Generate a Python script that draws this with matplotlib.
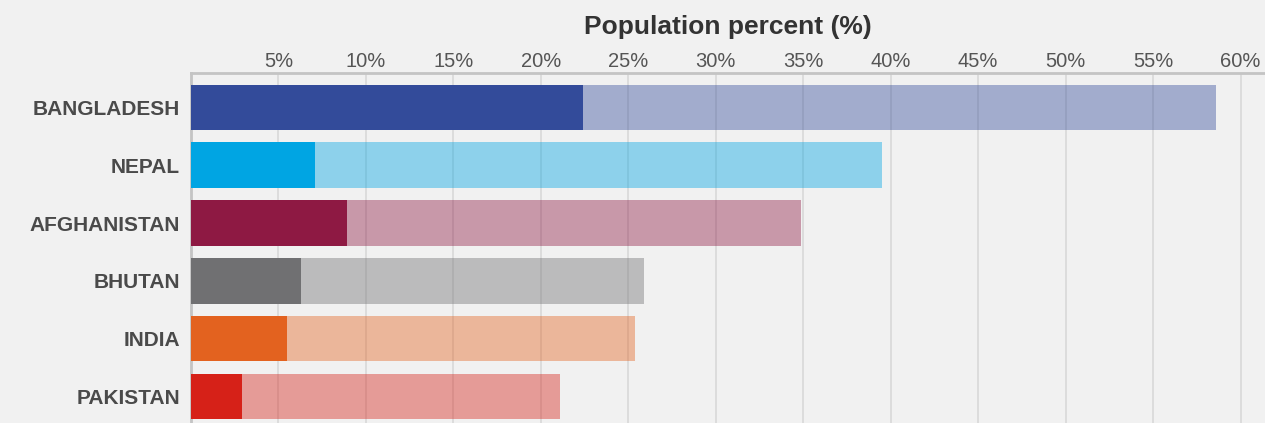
import matplotlib.pyplot as plt

countries = ['BANGLADESH', 'NEPAL', 'AFGHANISTAN', 'BHUTAN', 'INDIA', 'PAKISTAN']
dark_values = [22.4, 7.1, 8.9, 6.3, 5.5, 2.9]
light_values = [58.6, 39.5, 34.9, 25.9, 25.4, 21.1]
colors = ['#334b9a', '#00a5e3', '#8e1943', '#707072', '#e3621f', '#d62118']
ticks = [5, 10, 15, 20, 25, 30, 35, 40, 45, 50, 55, 60]

bg = '#f1f1f1'
plt.rcParams['font.family'] = ['Liberation Sans', 'DejaVu Sans']

fig = plt.figure(figsize=(12.65, 4.23), dpi=100, facecolor=bg)
ax = fig.add_axes([0.151, 0.0, 0.849, 0.8286])
ax.set_facecolor(bg)

y = list(range(len(countries)))
ax.barh(y, light_values, height=0.79, color=colors, alpha=0.41, zorder=2)
ax.barh(y, dark_values, height=0.79, color=colors, zorder=3)

ax.set_xlim(0, 61.4)
ax.set_ylim(5.46, -0.605)
ax.set_xticks(ticks)
ax.set_xticklabels([f'{t}%' for t in ticks])
ax.set_yticks(y)
ax.set_yticklabels(countries, fontsize=15, fontweight='bold', color='#4a4a4a')
ax.xaxis.tick_top()
ax.xaxis.set_label_position('top')
ax.tick_params(axis='x', length=0, labelsize=14.5, labelcolor='#555555', pad=1)
ax.tick_params(axis='y', length=0, pad=8)
ax.grid(axis='x', color='#d8d8d8', linewidth=1.2, zorder=1)
ax.set_axisbelow(True)

ax.set_xlabel('Population percent (%)', fontsize=19, fontweight='bold', color='#333333', labelpad=13)

for s in ['right', 'bottom']:
    ax.spines[s].set_visible(False)
for s in ['left', 'top']:
    ax.spines[s].set_color('#c4c4c4')
    ax.spines[s].set_linewidth(2)

fig.savefig('out.png', dpi=100, facecolor=bg)
